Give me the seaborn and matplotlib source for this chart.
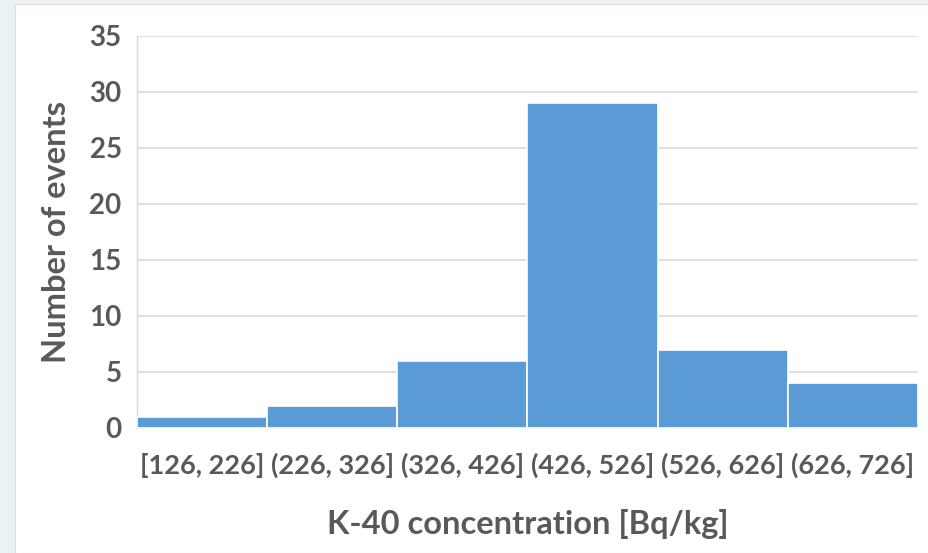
import matplotlib
matplotlib.use("Agg")
import matplotlib.pyplot as plt
import seaborn as sns
import pandas as pd
from matplotlib.patches import Rectangle

categories = ["[126, 226]", "(226, 326]", "(326, 426]", "(426, 526]", "(526, 626]", "(626, 726]"]
counts = [1, 2, 6, 29, 7, 4]
y_ticks = [0, 5, 10, 15, 20, 25, 30, 35]

df = pd.DataFrame({"bin": categories, "count": counts})

sns.set_theme(style="white")
plt.rcParams["font.family"] = ["Lato", "DejaVu Sans"]

text_color = "#595959"
bar_color = "#5b9bd5"

fig = plt.figure(figsize=(9.29, 5.53), dpi=100)
fig.patch.set_facecolor("#e9f3f3")
fig.patches.append(Rectangle((15 / 929, 0), 1, 1 - 4 / 553, transform=fig.transFigure,
                             facecolor="white", edgecolor="#dddddd", lw=0.8, zorder=-10))

ax = fig.add_axes([137 / 929, 1 - 428 / 553, (918 - 137) / 929, (428 - 36) / 553])
ax.set_facecolor("none")
sns.barplot(data=df, x="bin", y="count", color=bar_color, width=1.0, saturation=1,
            edgecolor="white", linewidth=1.2, ax=ax, zorder=3)

ax.set_ylim(0, 35)
ax.set_yticks(y_ticks)
ax.set_xlim(-0.5, len(categories) - 0.5)
ax.yaxis.grid(True, color="#d9d9d9", lw=1.2, zorder=0)
ax.set_axisbelow(True)
for s in ["top", "right", "bottom"]:
    ax.spines[s].set_visible(False)
ax.spines["left"].set_color("#d9d9d9")
ax.spines["left"].set_linewidth(1.0)
ax.tick_params(axis="both", length=0, colors=text_color)
ax.tick_params(axis="x", pad=18, labelsize=19.5)
ax.tick_params(axis="y", pad=11, labelsize=20)
for lab in ax.get_xticklabels() + ax.get_yticklabels():
    lab.set_fontweight("bold")

ax.set_xlabel("K-40 concentration [Bq/kg]", fontsize=23.5, fontweight="bold", color=text_color, labelpad=22)
ax.set_ylabel("Number of events", fontsize=23.5, fontweight="bold", color=text_color, labelpad=13)

fig.savefig("out.png", dpi=100)
